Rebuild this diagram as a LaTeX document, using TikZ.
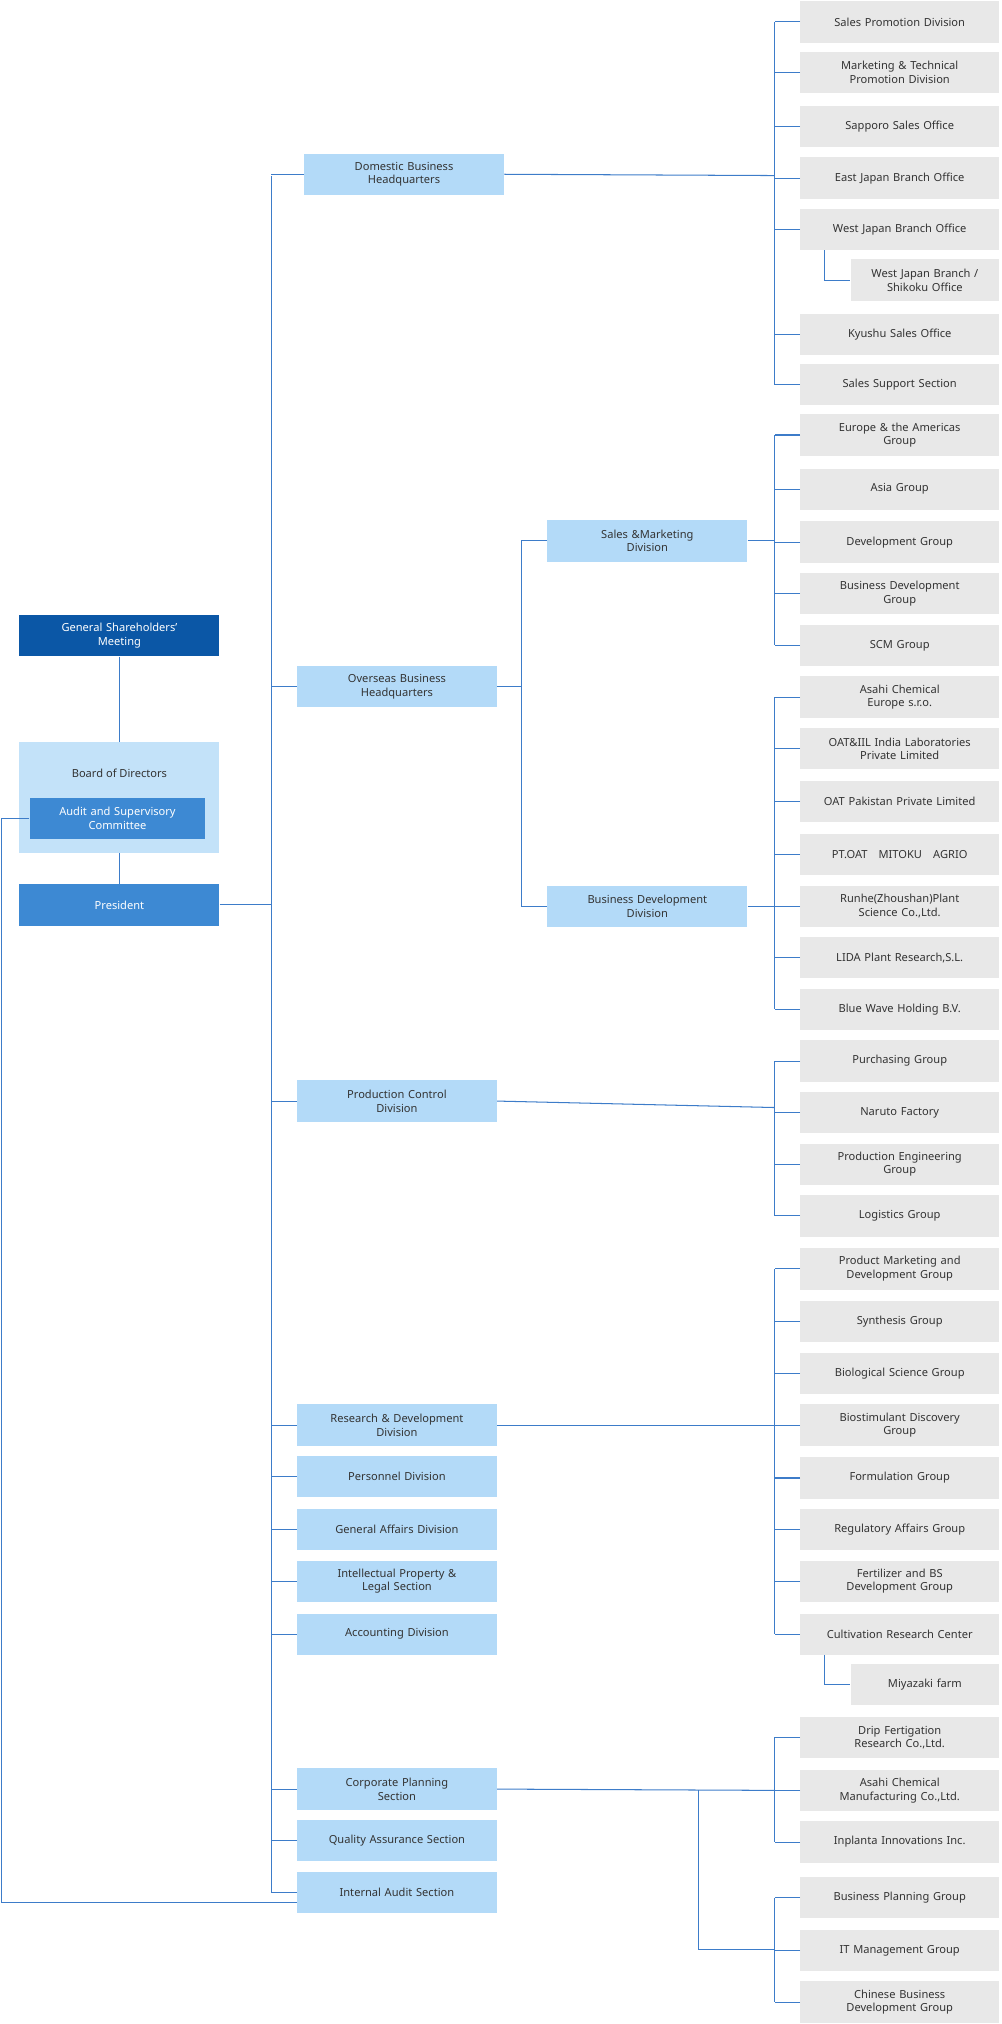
\documentclass[tikz,border=0pt]{standalone}
\usepackage{fontspec}
\setmainfont{Noto Sans}
\definecolor{lineblue}{HTML}{3D7CC9}
\definecolor{midblue}{HTML}{B3DAF8}
\definecolor{boardblue}{HTML}{C3E2F9}
\definecolor{darkblue}{HTML}{0B57A6}
\definecolor{presblue}{HTML}{3D89D3}
\definecolor{greybox}{HTML}{E8E8E8}
\definecolor{txt}{HTML}{333333}
\tikzset{
  conn/.style={lineblue, line width=0.8pt},
  base/.style={minimum height=32pt, inner sep=1pt, align=center, font=\fontsize{8.6}{10.5}\selectfont},
  mbox/.style={base, fill=midblue, minimum width=155pt, text width=150pt, text=txt},
  rbox/.style={base, fill=greybox, minimum width=154pt, text width=152pt, text=txt},
  sbox/.style={base, fill=greybox, minimum width=115pt, text width=113pt, text=txt},
  tbox/.style={base, minimum width=155pt, text width=150pt, text=white},
}
\begin{document}
\begin{tikzpicture}[x=1pt,y=-1pt]
\useasboundingbox (0,0) rectangle (776,1568);
% left column
\node[tbox, fill=darkblue] (gsm) at (92.5,492.5) {General Shareholders'\\Meeting};
\node[fill=boardblue, minimum width=155pt, minimum height=86pt, inner sep=0pt] (board) at (92.5,618) {};
\node[font=\fontsize{8.6}{10.5}\selectfont, text=txt] (boardlbl) at (92.5,599) {Board of Directors};
\node[base, fill=presblue, text=white, minimum width=136pt, text width=132pt] (audit) at (91,634) {Audit and Supervisory\\Committee};
\node[tbox, fill=presblue] (pres) at (92.5,701) {President};
\draw[conn] (gsm.south) -- (board.north);
\draw[conn] (board.south) -- (pres.north);
% middle column
\node[mbox] (dom) at (313,135) {Domestic Business\\Headquarters};
\node[mbox] (ovs) at (307.5,532) {Overseas Business\\Headquarters};
\node[mbox] (sales) at (501.5,419) {Sales \&Marketing\\Division};
\node[mbox] (bdd) at (501.5,702) {Business Development\\Division};
\node[mbox] (prod) at (307.5,853) {Production Control\\Division};
\node[mbox] (rnd) at (307.5,1104) {Research \& Development\\Division};
\node[mbox] (pers) at (307.5,1144) {Personnel Division};
\node[mbox] (gad) at (307.5,1185) {General Affairs Division};
\node[mbox] (ip) at (307.5,1225) {Intellectual Property \&\\Legal Section};
\node[mbox] (acc) at (307.5,1266) {Accounting Division};
\node[mbox] (cps) at (307.5,1386) {Corporate Planning\\Section};
\node[mbox] (qas) at (307.5,1426) {Quality Assurance Section};
\node[mbox] (ias) at (307.5,1466) {Internal Audit Section};
% trunk
\draw[conn] (210,136) -- (210,1466);
\draw[conn] (pres.east) -- (pres.east -| 210,0);
\foreach \n in {ovs,prod,rnd,pers,gad,ip,acc,cps,qas,ias}
  \draw[conn] (\n.west) -- (\n.west -| 210,0);
\draw[conn] (dom.west) -- (dom.west -| 210,0);
\draw[conn] (audit.west) -- (1,634) -- (1,1474) -- (230,1474);
% overseas branch
\draw[conn] (ovs.east) -- (404,532);
\draw[conn] (404,419) -- (404,702);
\draw[conn] (404,419) -- (sales.west);
\draw[conn] (404,702) -- (bdd.west);
% domestic group
\foreach \y/\t [count=\i] in {17/{Sales Promotion Division}, 56/{Marketing \& Technical\\Promotion Division}, 98/{Sapporo Sales Office}, 138/{East Japan Branch Office}, 178/{West Japan Branch Office}, 259/{Kyushu Sales Office}, 298/{Sales Support Section}} {
  \node[rbox] (dg\i) at (697,\y) {\t};
  \draw[conn] (dg\i.west) -- (600,\y);
}
\node[sbox] (wjs) at (716.5,217) {West Japan Branch /\\Shikoku Office};
\draw[conn] (639,194) |- (wjs.west);
\draw[conn] (600,17) -- (600,298);
\draw[conn] (dom.east) -- (600,136);
% sales & marketing group
\foreach \y/\t [count=\i] in {337/{Europe \& the Americas\\Group}, 379/{Asia Group}, 420/{Development Group}, 460/{Business Development\\Group}, 500/{SCM Group}} {
  \node[rbox] (sg\i) at (697,\y) {\t};
  \draw[conn] (sg\i.west) -- (600,\y);
}
\draw[conn] (600,337) -- (600,500);
\draw[conn] (sales.east) -- (600,419);
% business development group
\foreach \y/\t [count=\i] in {540/{Asahi Chemical\\Europe s.r.o.}, 580/{OAT\&IIL India Laboratories\\Private Limited}, 621/{OAT Pakistan Private Limited}, 662/{PT.OAT\quad MITOKU\quad AGRIO}, 702/{Runhe(Zhoushan)Plant\\Science Co.,Ltd.}, 742/{LIDA Plant Research,S.L.}, 782/{Blue Wave Holding B.V.}} {
  \node[rbox] (bg\i) at (697,\y) {\t};
  \draw[conn] (bg\i.west) -- (600,\y);
}
\draw[conn] (600,540) -- (600,782);
\draw[conn] (bdd.east) -- (600,702);
% production group
\foreach \y/\t [count=\i] in {822/{Purchasing Group}, 862/{Naruto Factory}, 902/{Production Engineering\\Group}, 942/{Logistics Group}} {
  \node[rbox] (pg\i) at (697,\y) {\t};
  \draw[conn] (pg\i.west) -- (600,\y);
}
\draw[conn] (600,822) -- (600,942);
\draw[conn] (prod.east) -- (600,858);
% research group
\foreach \y/\t [count=\i] in {983/{Product Marketing and\\Development Group}, 1024/{Synthesis Group}, 1064/{Biological Science Group}, 1104/{Biostimulant Discovery\\Group}, 1145/{Formulation Group}, 1185/{Regulatory Affairs Group}, 1225/{Fertilizer and BS\\Development Group}, 1266/{Cultivation Research Center}} {
  \node[rbox] (rg\i) at (697,\y) {\t};
  \draw[conn] (rg\i.west) -- (600,\y);
}
\node[sbox] (miy) at (716.5,1305) {Miyazaki farm};
\draw[conn] (639,1282) |- (miy.west);
\draw[conn] (600,983) -- (600,1266);
\draw[conn] (rnd.east) -- (600,1104);
% corporate planning groups
\foreach \y/\t [count=\i] in {1346/{Drip Fertigation\\Research Co.,Ltd.}, 1387/{Asahi Chemical\\Manufacturing Co.,Ltd.}, 1427/{Inplanta Innovations Inc.}, 1470/{Business Planning Group}, 1511/{IT Management Group}, 1551/{Chinese Business\\Development Group}} {
  \node[rbox] (cg\i) at (697,\y) {\t};
  \draw[conn] (cg\i.west) -- (600,\y);
}
\draw[conn] (600,1346) -- (600,1427);
\draw[conn] (600,1470) -- (600,1551);
\draw[conn] (cps.east) -- (600,1387);
\draw[conn] (541,1387) -- (541,1510) -- (600,1510);
\end{tikzpicture}
\end{document}
